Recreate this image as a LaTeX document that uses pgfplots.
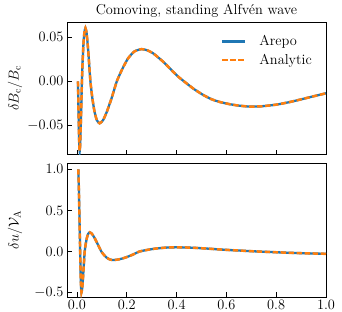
\documentclass[border=0pt]{standalone}
\usepackage{pgfplots}
\pgfplotsset{compat=1.18}
\usepackage{pgfplotstable}
\definecolor{mblue}{HTML}{1F77B4}
\definecolor{morange}{HTML}{FF7F0E}
\pgfplotstableread{
x y
0.004 0.000
0.006 -0.030
0.008 -0.058
0.0095 -0.074
0.011 -0.079
0.0128 -0.073
0.0148 -0.056
0.0172 -0.030
0.0200 0.000
0.0228 0.0232
0.0261 0.0428
0.0299 0.0559
0.0340 0.0605
0.0382 0.0559
0.0429 0.0428
0.0481 0.0232
0.0540 0.000
0.0614 -0.0183
0.0700 -0.0337
0.0797 -0.0441
0.0910 -0.0477
0.1049 -0.0441
0.1212 -0.0337
0.1400 -0.0183
0.1600 0.000
0.1820 0.0140
0.2050 0.0260
0.2305 0.0339
0.2590 0.0366
0.2830 0.0352
0.3060 0.0318
0.3260 0.0272
0.3460 0.0223
0.3660 0.0167
0.3860 0.0109
0.4100 0.0045
0.4400 -0.0023
0.4700 -0.0088
0.5070 -0.0155
0.5400 -0.0203
0.5740 -0.0235
0.6140 -0.0260
0.6500 -0.0276
0.6900 -0.0286
0.7400 -0.0284
0.8000 -0.0265
0.8500 -0.0238
0.9000 -0.0205
0.9500 -0.0170
1.0000 -0.0136
}\topdata
\pgfplotstableread{
x y
0.0056 1.000
0.0075 0.780
0.0095 0.500
0.0115 0.200
0.0135 -0.100
0.0155 -0.350
0.0168 -0.450
0.0180 -0.496
0.0206 -0.458
0.0236 -0.351
0.0270 -0.190
0.0310 0.000
0.0351 0.090
0.0398 0.166
0.0450 0.217
0.0510 0.235
0.0600 0.217
0.0707 0.166
0.0832 0.090
0.0980 0.000
0.1080 -0.039
0.1190 -0.073
0.1315 -0.095
0.1450 -0.103
0.1680 -0.095
0.1940 -0.073
0.2220 -0.040
0.2500 0.000
0.2810 0.020
0.3160 0.0368
0.3560 0.048
0.4000 0.052
0.4500 0.049
0.5000 0.041
0.5500 0.031
0.6000 0.021
0.6500 0.013
0.7000 0.005
0.7500 -0.002
0.8000 -0.008
0.8500 -0.014
0.9000 -0.019
0.9500 -0.023
1.0000 -0.027
}\botdata
\newcommand{\fnt}{\fontsize{14.4}{17}\selectfont}
\pgfplotsset{
  panel/.style={
    scale only axis, width=259bp,
    xmin=-0.04, xmax=1,
    xtick={0,0.2,0.4,0.6,0.8,1.0},
    scaled y ticks=false, scaled x ticks=false,
    tick align=inside, xtick pos=bottom, ytick pos=left,
    major tick length=5bp,
    every tick/.style={black, line width=0.9bp},
    axis line style={line width=1bp},
    tick label style={font=\fnt},
    label style={font=\fnt},
    every axis y label/.style={at={(axis description cs:-0.2008,0.5)}, rotate=90, anchor=center, font=\fnt},
    every axis title/.style={at={(axis description cs:0.5,1)}, anchor=base, yshift=8bp, font=\fnt},
    legend image code/.code={\draw[#1] plot coordinates {(0bp,0bp) (23bp,0bp)}; \path (34bp,0bp);},
  },
  arepo/.style={mblue, line width=2.3bp, smooth, tension=0.35},
  analytic/.style={morange, line width=2.5bp, smooth, tension=0.35, dash pattern=on 5.3bp off 2.7bp},
}
\begin{document}
\begin{tikzpicture}
\useasboundingbox (0bp,0bp) rectangle (342bp,-312bp);
\begin{axis}[panel,
  at={(67bp,-22bp)}, anchor=north west, height=133bp,
  ymin=-0.0837, ymax=0.0674,
  ytick={-0.05,0,0.05},
  yticklabel style={/pgf/number format/fixed, /pgf/number format/fixed zerofill, /pgf/number format/precision=2},
  xticklabels={},
  title={Comoving, standing Alfv\'en wave},
  ylabel={$\delta B_\mathrm{c}/B_\mathrm{c}$},
  legend style={draw=none, fill=none, at={(axis description cs:0.965,0.93)}, anchor=north east, font=\fnt, row sep=3bp},
  legend cell align=left,
]
\addplot[arepo] table {\topdata};
\addlegendentry{Arepo}
\addplot[analytic] table {\topdata};
\addlegendentry{Analytic}
\end{axis}
\begin{axis}[panel,
  at={(67bp,-163bp)}, anchor=north west, height=134bp,
  ymin=-0.552, ymax=1.077,
  ytick={-0.5,0,0.5,1},
  yticklabel style={/pgf/number format/fixed, /pgf/number format/fixed zerofill, /pgf/number format/precision=1},
  xticklabel style={/pgf/number format/fixed, /pgf/number format/fixed zerofill, /pgf/number format/precision=1},
  ylabel={$\delta u/\mathcal{V}_\mathrm{A}$},
]
\addplot[arepo] table {\botdata};
\addplot[analytic] table {\botdata};
\end{axis}
\end{tikzpicture}
\end{document}
